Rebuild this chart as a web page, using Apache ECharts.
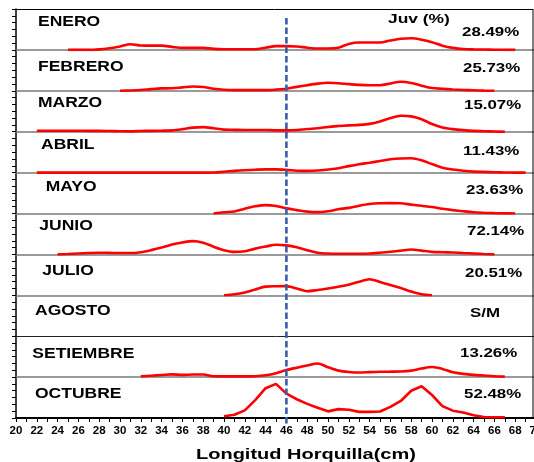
<!DOCTYPE html>
<html>
<head>
<meta charset="utf-8">
<script src="https://cdn.jsdelivr.net/npm/echarts@6/dist/echarts.min.js"></script>
<style>
html,body{margin:0;padding:0;background:#fff;}
#chart{width:534px;height:462px;}
</style>
</head>
<body>
<div id="chart"></div>
<script>
// ---- DATA ----
const months = ['ENERO','FEBRERO','MARZO','ABRIL','MAYO','JUNIO','JULIO','AGOSTO','SETIEMBRE','OCTUBRE'];
const juvLabels = ['28.49%','25.73%','15.07%','11.43%','23.63%','72.14%','20.51%','S/M','13.26%','52.48%'];
const xRange = [20, 70];
// first length (cm) of each month's curve
const startLen = [25, 30, 22, 22, 39, 24, 40, null, 32, 40];
const enero = [0,0,0,0.3,1,2,3.3,2.6,2.5,2.5,1.8,1.2,1.2,1.2,0.6,0.4,0.4,0.4,0.4,1.3,2.2,2.2,2,1.3,0.8,0.8,1.3,3.5,4.3,4.3,4.3,5.5,6.5,6.8,6,4.5,2.5,1.2,0.5,0.3,0.2,0.1,0,0];
const febrero = [0,0.2,0.5,1,1.4,1.5,2,2.5,2.2,1.2,0.6,0.4,0.4,0.4,0.4,0.7,1.2,2.3,3.3,4.2,4.7,4.4,3.9,3.5,3.3,3.3,4.3,5.3,4.6,3,1.6,1.2,0.8,0.5,0.3,0.1,0];
const marzo = [0.6,0.6,0.6,0.6,0.6,0.5,0.5,0.4,0.3,0.2,0.4,0.5,0.6,0.8,1.5,2.4,2.7,2,1.2,1.1,1,1,1,0.8,0.8,1,1.6,2,2.8,3.3,3.7,4,4.6,6,8,9.4,9,7.3,4.5,2.5,1.5,0.9,0.5,0.3,0.1,0];
const abril = [0,0,0,0,0,0,0,0,0,0,0,0,0,0,0,0,0,0.1,0.5,1,1.4,1.7,1.9,1.9,1.6,1.1,1,1.2,1.8,2.5,3.8,4.9,5.8,6.8,7.8,8.3,8.4,7.2,5,2.8,1.8,1.1,0.6,0.4,0.2,0.1,0,0];
const mayo = [0,0.7,1.2,2.8,4.2,4.9,4.4,3,2,1.1,0.8,1.3,2.5,3.3,4.6,5.6,6,6.1,6,5.2,4.5,3.8,2.8,2,1.3,0.7,0.4,0.2,0.1,0];
const junio = [0,0.2,0.5,0.8,1,0.9,0.8,0.8,1.3,2.5,4,5.8,7,7.8,6.9,4.5,2.5,1.5,1.9,3.4,4.6,5.7,5.3,4.2,2.5,1,0.5,0.4,0.4,0.4,0.5,1,1.6,2.2,2.9,2.2,1.5,1.3,1.1,0.8,0.5,0.2,0];
const julio = [0,0.6,1.7,3.4,5.1,5.3,5.4,4,2.4,3.1,4,5,6.2,8,9.4,7.8,6,4.3,2.2,0.6,0];
const agosto = [];
const setiembre = [0.4,0.8,1.2,1.6,1.3,1.5,1.5,0.5,0.4,0.4,0.4,0.5,1.1,2.3,4.1,5.5,6.8,8,5.8,3.8,3,2.7,2.9,3.1,3.2,3.3,3.8,5,5.9,4.8,2.8,1.9,1.3,0.9,0.5,0.3];
const octubre = [1,1.9,4.5,10.5,17.5,20,14.3,11,8.3,6,3.9,5.2,4.8,3.6,3.6,3.8,6.5,10,16,18.6,13.5,7,4.3,3.2,1.6,0.6,0.4,0.4];
const monthValues = [enero, febrero, marzo, abril, mayo, junio, julio, agosto, setiembre, octubre];
const juvCut = 46;

// ---- LAYOUT / STYLE ----
const L = 16, TOP = 9, PH = 40.9, RIGHT = -2, FRAME_R = 533;
const FONT = '"Liberation Sans", Arial, Helvetica, sans-serif';
const monthPos = [[38,21.7],[38,66.7],[38,103],[41,145],[45.7,187],[39.3,226],[42.3,271.5],[35,311],[32.3,354],[35,394]];
const pctPos = [[462,32.5],[463,69],[464,106],[463,151.7],[466,191],[467,232],[465,274],[470,313.5],[460,353.5],[464,395]];

const n = months.length;
const chart = echarts.init(document.getElementById('chart'), null, {renderer:'canvas'});

const grids = [], xAxes = [], yAxes = [], series = [];
for (let i = 0; i < n; i++) {
  const last = i === n - 1;
  grids.push({left: L, right: RIGHT, top: TOP + i * PH, height: PH, containLabel: false, outerBoundsMode: 'none'});
  xAxes.push({
    type: 'value', gridIndex: i, min: xRange[0], max: xRange[1], interval: 1,
    axisLine: {show: true, onZero: false, lineStyle: {color: last ? '#000' : (i === 7 ? '#222' : '#7a7a7a'), width: last ? 2 : (i === 7 ? 1 : 1.7)}},
    axisTick: {show: last, length: 4, lineStyle: {color: '#000', width: 1}},
    axisLabel: {show: last, margin: 7, fontSize: 11.5, fontWeight: 'bold', color: '#000', fontFamily: FONT,
      hideOverlap: false, showMaxLabel: true, showMinLabel: true,
      formatter: v => (v % 2 === 0 ? String(v) : '')},
    splitLine: {show: false}
  });
  yAxes.push({
    type: 'value', gridIndex: i, min: 0, max: 24, interval: 4,
    axisLine: {show: true, lineStyle: {color: '#000', width: 1.5}},
    axisTick: {show: true, length: 4, lineStyle: {color: '#000', width: 1}},
    axisLabel: {show: false}, splitLine: {show: false}
  });
  const vals = monthValues[i];
  if (vals.length) {
    series.push({
      type: 'line', xAxisIndex: i, yAxisIndex: i,
      data: vals.map((v, k) => [startLen[i] + k, v]),
      showSymbol: false, symbol: 'none',
      smooth: i === 9 ? false : 0.3,
      lineStyle: {color: '#ff0000', width: 2.6},
      z: 5
    });
  }
}

chart.setOption({
  animation: false,
  backgroundColor: '#fff',
  grid: grids, xAxis: xAxes, yAxis: yAxes, series: series
});

const cutX = chart.convertToPixel({xAxisIndex: 0}, juvCut);
const bottomY = TOP + n * PH;
const graphics = [];
// frame top and right
graphics.push({type: 'line', shape: {x1: L, y1: TOP + 0.5, x2: FRAME_R, y2: TOP + 0.5}, style: {stroke: '#000', lineWidth: 1}, z: 10});
graphics.push({type: 'line', shape: {x1: FRAME_R, y1: TOP, x2: FRAME_R, y2: bottomY}, style: {stroke: '#000', lineWidth: 1}, z: 10});
// juvenile cut line
graphics.push({type: 'line', shape: {x1: cutX, y1: 18, x2: cutX, y2: 424},
  style: {stroke: '#3b5ca8', lineWidth: 2.6, lineDash: [6.5, 3]}, z: 20});
months.forEach((m, i) => {
  graphics.push({type: 'text', x: monthPos[i][0], y: monthPos[i][1], scaleX: 1.25, scaleY: 1, z: 30,
    style: {text: m, fontSize: 14, fontWeight: 'bold', fontFamily: FONT, fill: '#000', align: 'left', verticalAlign: 'middle'}});
  graphics.push({type: 'text', x: pctPos[i][0], y: pctPos[i][1], scaleX: 1.35, scaleY: 1, z: 30,
    style: {text: juvLabels[i], fontSize: 12.5, fontWeight: 'bold', fontFamily: FONT, fill: '#000', align: 'left', verticalAlign: 'middle'}});
});
graphics.push({type: 'text', x: 388, y: 20, scaleX: 1.45, z: 30,
  style: {text: 'Juv (%)', fontSize: 12, fontWeight: 'bold', fontFamily: FONT, fill: '#000', align: 'left', verticalAlign: 'middle'}});
graphics.push({type: 'text', x: 196, y: 454.5, scaleX: 1.29, z: 30,
  style: {text: 'Longitud Horquilla(cm)', fontSize: 15.5, fontWeight: 'bold', fontFamily: FONT, fill: '#000', align: 'left', verticalAlign: 'middle'}});

chart.setOption({graphic: graphics});
</script>
</body>
</html>
